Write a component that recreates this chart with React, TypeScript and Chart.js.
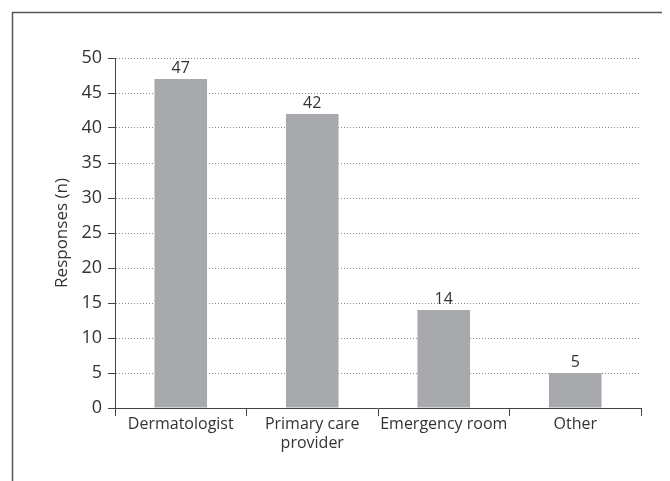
import React, { useEffect, useRef } from "react";
import { Chart, registerables } from "chart.js";

Chart.register(...registerables);

const categories: (string | string[])[] = ["Dermatologist", ["Primary care", "provider"], "Emergency room", "Other"];
const responses: number[] = [47, 42, 14, 5];
const yTitle = "Responses (n)";

const FONT = "'Open Sans', 'Noto Sans', sans-serif";
const TEXT = "#333333";

const boxPlugin = {
  id: "boxBorder",
  beforeDraw(chart: any) {
    const ctx = chart.ctx;
    ctx.save();
    ctx.strokeStyle = "#555555";
    ctx.lineWidth = 1.5;
    ctx.strokeRect(4.5, 4.5, chart.width + 20, chart.height + 20);
    ctx.restore();
  },
};

const labelPlugin = {
  id: "valueLabels",
  afterDatasetsDraw(chart: any) {
    const ctx = chart.ctx;
    const meta = chart.getDatasetMeta(0);
    ctx.save();
    ctx.font = `16px ${FONT}`;
    ctx.fillStyle = TEXT;
    ctx.textAlign = "center";
    ctx.textBaseline = "bottom";
    meta.data.forEach((bar: any, i: number) => {
      ctx.fillText(String(responses[i]), bar.x, bar.y - 3);
    });
    ctx.restore();
  },
};

export default function App() {
  const ref = useRef<HTMLCanvasElement | null>(null);
  useEffect(() => {
    if (!ref.current) return;
    const chart = new Chart(ref.current, {
      type: "bar",
      data: {
        labels: categories,
        datasets: [
          {
            data: responses,
            backgroundColor: "#a8a9ac",
            borderWidth: 0,
            barPercentage: 0.4,
            categoryPercentage: 1,
          },
        ],
      },
      plugins: [boxPlugin, labelPlugin],
      options: {
        responsive: false,
        animation: false,
        layout: { padding: { left: 0, top: 50, right: 29, bottom: 0 } },
        plugins: { legend: { display: false }, tooltip: { enabled: false } },
        scales: {
          x: {
            grid: {
              display: true,
              drawOnChartArea: false,
              drawTicks: true,
              tickLength: 8,
              tickColor: "#444444",
              tickWidth: 1,
              offset: true,
            },
            border: { display: true, color: "#444444", width: 1 },
            ticks: {
              color: TEXT,
              font: { family: FONT, size: 16 },
              padding: -1,
              maxRotation: 0,
              autoSkip: false,
            },
            afterFit(scale: any) {
              scale.height = 73;
            },
          },
          y: {
            min: 0,
            max: 50,
            grid: {
              color: "#8a8a8a",
              lineWidth: 1,
              tickBorderDash: [],
              tickColor: "#444444",
              tickLength: 7,
              drawTicks: true,
            },
            border: { display: true, color: "#444444", width: 1, dash: [1, 2] },
            ticks: {
              stepSize: 5,
              color: TEXT,
              font: { family: FONT, size: 18 },
              padding: 6,
            },
            title: {
              display: true,
              text: yTitle,
              color: TEXT,
              font: { family: FONT, size: 17 },
              padding: { top: 44, bottom: 0 },
            },
            afterFit(scale: any) {
              scale.width = 107;
            },
          },
        },
      },
    } as any);
    return () => chart.destroy();
  }, []);
  return <canvas ref={ref} width={662} height={473} style={{ display: "block" }} />;
}
